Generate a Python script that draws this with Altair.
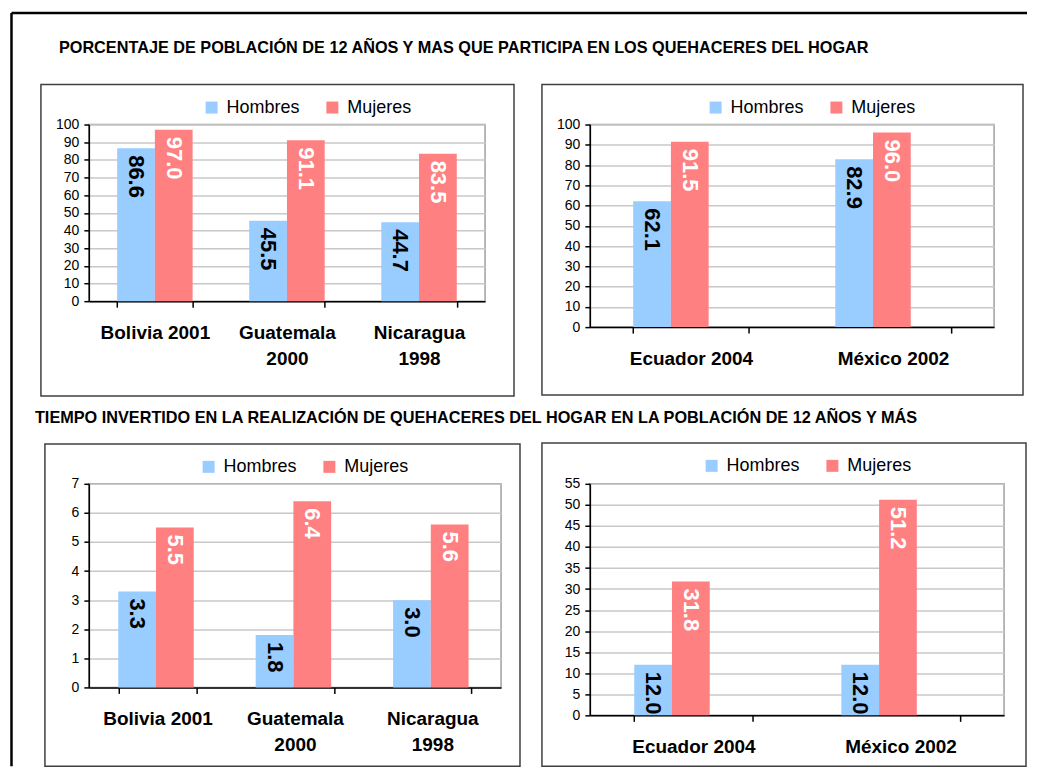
import altair as alt
import pandas as pd

FONT = "Liberation Sans"
SEXOS = ["Hombres", "Mujeres"]
COLORS = ["#99CCFF", "#FF8080"]

TITLE_1 = "PORCENTAJE DE POBLACIÓN DE 12 AÑOS Y MAS QUE PARTICIPA EN LOS QUEHACERES DEL HOGAR"
TITLE_2 = "TIEMPO INVERTIDO EN LA REALIZACIÓN DE QUEHACERES DEL HOGAR EN LA POBLACIÓN DE 12 AÑOS Y MÁS"

# Panel 1: porcentaje (grupo 1)
p1_cats = ["Bolivia 2001", "Guatemala\n2000", "Nicaragua\n1998"]
p1_hombres = [86.6, 45.5, 44.7]
p1_mujeres = [97.0, 91.1, 83.5]

# Panel 2: porcentaje (grupo 2)
p2_cats = ["Ecuador 2004", "México 2002"]
p2_hombres = [62.1, 82.9]
p2_mujeres = [91.5, 96.0]

# Panel 3: tiempo (grupo 1)
p3_cats = ["Bolivia 2001", "Guatemala\n2000", "Nicaragua\n1998"]
p3_hombres = [3.3, 1.8, 3.0]
p3_mujeres = [5.5, 6.4, 5.6]

# Panel 4: tiempo (grupo 2)
p4_cats = ["Ecuador 2004", "México 2002"]
p4_hombres = [12.0, 12.0]
p4_mujeres = [31.8, 51.2]

ONE = pd.DataFrame({"k": [0]})


def box(x1, x2, y1, y2):
    return alt.Chart(ONE).mark_rect(
        fillOpacity=0, stroke="#404040", strokeWidth=1.5
    ).encode(x=alt.value(x1), x2=alt.value(x2), y=alt.value(y1), y2=alt.value(y2))


def title_text(txt, x, y):
    return alt.Chart(pd.DataFrame({"t": [txt]})).mark_text(
        align="left", baseline="middle", font=FONT, fontSize=16.3,
        fontWeight="bold", color="black"
    ).encode(text="t:N", x=alt.value(x), y=alt.value(y))


def panel(cats, hombres, mujeres, ymax, ystep, w, h, bx, legxy, extras=()):
    df = pd.DataFrame({
        "pais": cats * 2,
        "sexo": ["Hombres"] * len(cats) + ["Mujeres"] * len(cats),
        "valor": hombres + mujeres,
    })
    x = alt.X(
        "pais:N", sort=cats, title=None,
        scale=alt.Scale(paddingInner=0.4286, paddingOuter=0.2143),
        axis=alt.Axis(
            labelExpr="isString(datum.value) ? split(datum.value, '\\n') : ''",
            labelAngle=0, labelFont=FONT,
            labelFontSize=19, labelFontWeight="bold", labelColor="black",
            labelLineHeight=26, labelPadding=16, labelBaseline="top",
            tickBand="extent", tickSize=6, tickColor="black", tickWidth=1.5,
            domainColor="black", domainWidth=1.5, grid=False,
            labelOverlap=False, labelBound=False, labelLimit=300,
        ),
    )
    xo = alt.XOffset("sexo:N", sort=SEXOS, scale=alt.Scale(paddingInner=0, paddingOuter=0))
    y = alt.Y(
        "valor:Q", title=None,
        scale=alt.Scale(domain=[0, ymax], nice=False),
        axis=alt.Axis(
            values=list(range(0, ymax + 1, ystep)), labelFont=FONT, labelFontSize=14,
            labelColor="black", tickSize=5, tickColor="black", tickWidth=1.5,
            labelPadding=5, domainColor="black", domainWidth=1.5,
            grid=True, gridColor="#C8C8C8", gridWidth=1.5,
        ),
    )
    color = alt.Color(
        "sexo:N", sort=SEXOS,
        scale=alt.Scale(domain=SEXOS, range=COLORS),
        legend=alt.Legend(
            orient="none", legendX=legxy[0], legendY=legxy[1], direction="horizontal",
            title=None, symbolType="square", symbolSize=144, symbolStrokeWidth=0,
            symbolOpacity=1, labelFont=FONT, labelFontSize=18, labelColor="black",
            labelOffset=6, columnPadding=23, padding=0,
        ),
    )
    base = alt.Chart(df)
    bars = base.mark_bar().encode(x=x, xOffset=xo, y=y, color=color)
    labels = base.mark_text(
        angle=90, align="left", baseline="middle", dx=7,
        font=FONT, fontSize=22, fontWeight="bold",
    ).encode(
        x=x, xOffset=xo, y=y,
        text=alt.Text("valor:Q", format=".1f"),
        color=alt.condition(alt.datum.sexo == "Hombres", alt.value("black"), alt.value("white")),
    )
    return alt.layer(box(*bx), bars, labels, *extras).properties(width=w, height=h)


# plot origins (page coords): col1 x=88, col2 x=590 ; row1 y=123, row2 y=483
frame_top = alt.Chart(ONE).mark_rule(color="black", strokeWidth=2.5).encode(
    x=alt.value(10.5 - 88), x2=alt.value(1028 - 88), y=alt.value(11.25 - 123))
frame_left = alt.Chart(ONE).mark_rule(color="black", strokeWidth=2.5).encode(
    x=alt.value(10.5 - 88), y=alt.value(11.25 - 123), y2=alt.value(766 - 123))

p1 = panel(p1_cats, p1_hombres, p1_mujeres, 100, 10, 397, 177,
           (40 - 88, 514 - 88, 83 - 123, 395 - 123), (202 - 88, 97 - 123),
           extras=(frame_top, frame_left, title_text(TITLE_1, 58 - 88, 46 - 123)))
p2 = panel(p2_cats, p2_hombres, p2_mujeres, 100, 10, 405, 203,
           (542 - 590, 1024 - 590, 83 - 123, 394 - 123), (707 - 590, 97 - 123))
p3 = panel(p3_cats, p3_hombres, p3_mujeres, 7, 1, 413, 204,
           (44 - 88, 520 - 88, 443 - 483, 766 - 483), (199 - 88, 457 - 483),
           extras=(title_text(TITLE_2, 34 - 88, 417.5 - 483),))
p4 = panel(p4_cats, p4_hombres, p4_mujeres, 55, 5, 415, 232,
           (542 - 590, 1027 - 590, 442 - 483, 766 - 483), (703 - 590, 456 - 483))

chart = alt.concat(
    p1, p2, p3, p4, columns=2, bounds="flush", align="each",
    spacing={"row": 157, "column": 89},
).resolve_scale(color="independent").resolve_legend(color="independent").configure_view(
    stroke="#A0A0A0", strokeWidth=1.5
).properties(padding={"left": 1, "top": 2, "right": 0, "bottom": 0}, background="white")

chart.save("out.html", embed_options={"renderer": "svg", "actions": False})
